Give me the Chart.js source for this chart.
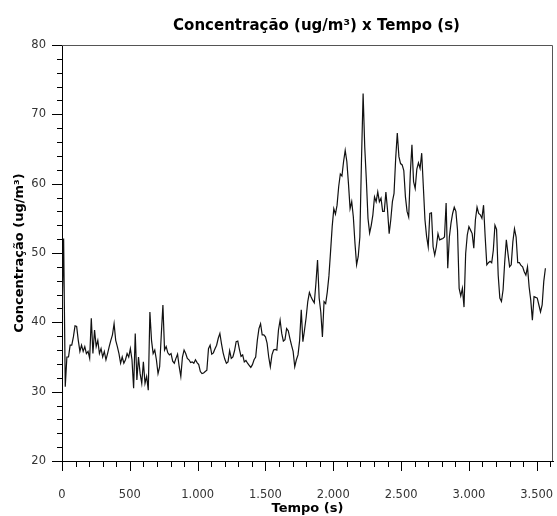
<!DOCTYPE html>
<html>
<head>
<meta charset="utf-8">
<script src="https://cdn.jsdelivr.net/npm/chart.js@4/dist/chart.umd.min.js"></script>
<style>
html, body { margin: 0; padding: 0; background: #fff; }
#wrap { width: 557px; height: 516px; }
</style>
</head>
<body>
<div id="wrap"><canvas id="grafico" width="557" height="516"></canvas></div>
<script>
// intervalo de amostragem (s)
var passo = 12;

// concentração (ug/m3), uma amostra a cada "passo" segundos
var concentracao = [
	41.0, 52.1, 30.7, 35.0, 35.0, 36.7, 36.7, 37.9, 39.5, 39.4,
	37.4, 35.8, 36.7, 35.8, 36.5, 35.5, 35.8, 34.8, 40.6, 35.5,
	38.9, 36.5, 37.4, 35.5, 36.2, 35.0, 35.8, 34.6, 35.5, 36.5,
	37.4, 38.2, 39.8, 37.4, 36.5, 35.5, 34.1, 35.0, 34.1, 34.6,
	35.5, 35.0, 36.2, 34.6, 30.5, 38.4, 31.7, 35.0, 32.6, 31.2,
	34.3, 31.2, 32.2, 30.2, 41.5, 37.4, 35.5, 36.0, 34.6, 32.6,
	33.6,
	38.2, 42.5, 36.0, 36.5, 35.6, 35.3, 35.5, 34.4, 34.1, 34.8,
	35.4, 33.6, 32.2, 35.0, 36.0, 35.5, 34.8, 34.6, 34.2, 34.3,
	34.1, 34.6, 34.2, 33.9, 32.9, 32.6, 32.7, 32.9, 33.1, 36.2,
	36.7, 35.4, 35.6, 36.2, 36.7, 37.7, 38.4, 36.9, 35.6, 34.7,
	34.1, 34.3, 35.9, 34.8, 35.0, 35.9, 37.2, 37.3, 36.1, 35.1,
	35.3, 34.3, 34.5, 34.1, 33.8, 33.5, 33.9, 34.6, 35.0, 37.4,
	39.1,
	39.8, 38.2, 38.2, 37.9, 37.0, 35.0, 33.6, 35.3, 36.0, 36.1,
	36.0, 38.9, 40.3, 38.4, 37.3, 37.5, 39.1, 38.8, 37.7, 36.7,
	35.8, 33.6, 34.6, 35.3, 37.4, 41.8, 37.2, 38.9, 40.7, 43.0,
	44.3, 43.7, 43.2, 42.8, 45.6, 49.0, 43.5, 41.5, 37.9, 43.0,
	42.7, 44.4, 46.7, 50.2, 53.8, 56.4, 55.6, 56.9, 59.6, 61.4,
	61.1, 63.2, 64.8, 63.2, 60.0, 56.4, 57.4, 55.2, 51.4, 48.3,
	49.5,
	52.3, 63.4, 73.0, 65.3, 60.5, 55.0, 52.9, 54.0, 55.5, 58.1,
	57.4, 58.8, 57.4, 57.9, 56.0, 56.0, 58.8, 56.2, 52.8, 54.8,
	57.4, 58.6, 63.6, 67.3, 63.9, 62.9, 62.7, 61.9, 58.1, 56.0,
	55.2, 61.5, 65.6, 60.3, 59.3, 62.1, 63.0, 62.2, 64.4, 59.6,
	54.8, 52.4, 50.9, 55.7, 55.8, 50.9, 49.7, 50.9, 52.8, 51.9,
	52.0, 52.1, 52.3, 57.2, 47.8, 52.3, 54.3, 55.7, 56.6, 56.0,
	53.3,
	44.9, 43.8, 44.9, 42.2, 49.9, 52.6, 53.8, 53.3, 52.8, 50.7,
	54.8, 56.6, 55.7, 55.5, 55.0, 56.9, 52.3, 48.3, 48.6, 48.8,
	48.6, 50.4, 54.0, 53.4, 46.8, 43.5, 43.0, 44.7, 48.7, 51.9,
	49.9, 48.0, 48.3, 51.6, 53.5, 52.3, 48.6, 48.6, 48.2, 48.0,
	47.3, 46.8, 48.0, 45.1, 43.2, 40.3, 43.7, 43.6, 43.5, 42.5,
	41.5, 42.5, 45.9, 47.8
];

// eixos
var tempoMax = 3620;
var concMin = 20, concMax = 80;
var passoMaiorX = 500, passoMenorX = 100;
var passoMaiorY = 10, passoMenorY = 2;

var pontos = concentracao.map(function(v, i) { return { x: i * passo, y: v }; });

function milhar(v) {
	return String(v).replace(/\B(?=(\d{3})+(?!\d))/g, '.');
}

// marcas maiores/menores dos eixos e moldura
var marcas = {
	id: 'marcas',
	afterLayout: function(chart) {
		// o título do original fica um pouco à direita do centro do gráfico
		if (chart.titleBlock) {
			chart.titleBlock.left += 9;
			chart.titleBlock.right += 9;
		}
	},
	afterDraw: function(chart) {
		var ctx = chart.ctx, a = chart.chartArea;
		var sx = chart.scales.x, sy = chart.scales.y;
		ctx.save();
		ctx.strokeStyle = '#000';
		ctx.lineWidth = 1;
		ctx.beginPath();
		sy.ticks.forEach(function(t) {
			var y = Math.round(sy.getPixelForValue(t.value)) + 0.5;
			var len = t.value % passoMaiorY === 0 ? 10 : 5;
			ctx.moveTo(a.left - len, y);
			ctx.lineTo(a.left, y);
		});
		sx.ticks.forEach(function(t) {
			if (t.value % passoMenorX !== 0) return;
			var x = Math.round(sx.getPixelForValue(t.value)) + 0.5;
			var len = t.value % passoMaiorX === 0 ? 10 : 6;
			ctx.moveTo(x, a.bottom);
			ctx.lineTo(x, a.bottom + len);
		});
		ctx.stroke();
		ctx.strokeStyle = '#555';
		ctx.beginPath();
		ctx.moveTo(a.left, a.top + 0.5);
		ctx.lineTo(a.right - 0.5, a.top + 0.5);
		ctx.lineTo(a.right - 0.5, a.bottom);
		ctx.stroke();
		ctx.restore();
	}
};

new Chart(document.getElementById('grafico'), {
	type: 'line',
	data: {
		datasets: [{
			data: pontos,
			borderColor: '#111',
			borderWidth: 1.2,
			pointRadius: 0,
			tension: 0,
			fill: false
		}]
	},
	options: {
		responsive: false,
		animation: false,
		layout: { padding: { top: 0, right: 4, bottom: 0, left: 0 } },
		plugins: {
			legend: { display: false },
			tooltip: { enabled: false },
			title: {
				display: true,
				fullSize: false,
				text: 'Concentração (ug/m³) x Tempo (s)',
				color: '#000',
				font: { family: 'DejaVu Sans', size: 15, weight: 'bold' },
				padding: { top: 17.5, bottom: 9.5 }
			}
		},
		scales: {
			x: {
				type: 'linear',
				min: 0,
				max: tempoMax,
				grid: { display: false },
				border: { display: true, color: '#000', width: 1 },
				ticks: {
					stepSize: passoMenorX,
					includeBounds: false,
					autoSkip: false,
					maxRotation: 0,
					padding: 19,
					color: '#333',
					font: { family: 'DejaVu Sans', size: 11.5 },
					callback: function(v) { return v % passoMaiorX === 0 ? milhar(v) : ''; }
				},
				title: {
					display: true,
					text: 'Tempo (s)',
					color: '#000',
					font: { family: 'DejaVu Sans', size: 13, weight: 'bold' },
					padding: { top: 0, bottom: 0 }
				},
				afterFit: function(s) { s.height = 55; s.paddingLeft = 0; s.paddingRight = 0; }
			},
			y: {
				min: concMin,
				max: concMax,
				grid: { display: false },
				border: { display: true, color: '#000', width: 1 },
				ticks: {
					stepSize: passoMenorY,
					autoSkip: false,
					padding: 8,
					color: '#333',
					font: { family: 'DejaVu Sans', size: 11.5 },
					callback: function(v) { return v % passoMaiorY === 0 ? String(v) : ''; }
				},
				title: {
					display: true,
					text: 'Concentração (ug/m³)',
					color: '#000',
					font: { family: 'DejaVu Sans', size: 13, weight: 'bold' },
					padding: { top: 11.6, bottom: 0 }
				},
				afterFit: function(s) { s.width = 62; s.paddingTop = 0; s.paddingBottom = 0; }
			}
		}
	},
	plugins: [marcas]
});
</script>
</body>
</html>
